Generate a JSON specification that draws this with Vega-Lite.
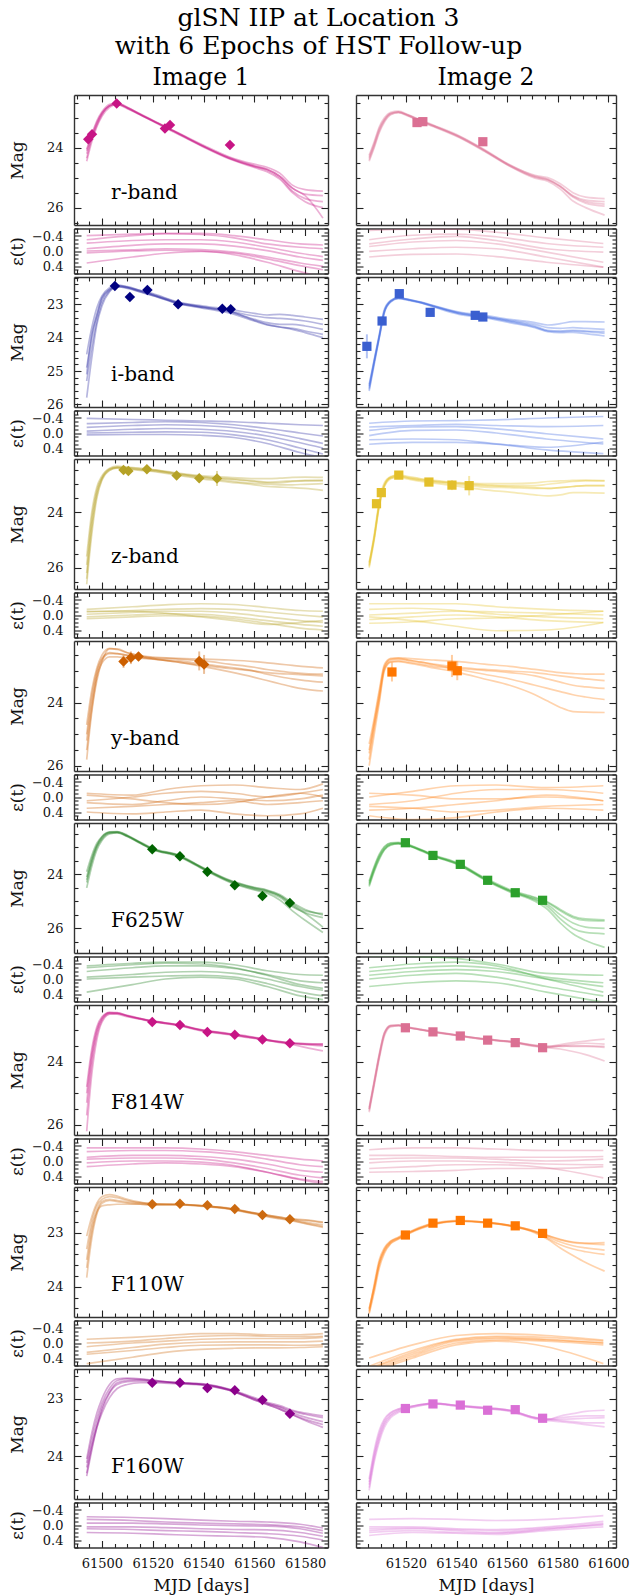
{
"$schema":"https://vega.github.io/schema/vega-lite/v6.json",
"background":"white",
"padding":{"left":8,"top":5,"right":12,"bottom":3},
"title":{"text":["glSN IIP at Location 3","with 6 Epochs of HST Follow-up"],"fontSize":25,"lineHeight":28,"offset":7,"anchor":"middle"},
"columns":2,
"spacing":{"row":3.5,"column":28},
"align":"each",
"bounds":"flush",
"datasets":{
"r1":[{"t":61494,"a":24.05,"b":24.2,"c":24.35,"d":24.45,"e":24.1},{"t":61496,"a":23.55,"b":23.65,"c":23.7,"d":23.8,"e":23.6},{"t":61498,"a":23.1,"b":23.2,"c":23.25,"d":23.3,"e":23.15},{"t":61500,"a":22.8,"b":22.85,"c":22.9,"d":22.95,"e":22.85},{"t":61503,"a":22.55,"b":22.6,"c":22.6,"d":22.65,"e":22.6},{"t":61506,"a":22.5,"b":22.52,"c":22.55,"d":22.55,"e":22.53},{"t":61510,"a":22.65,"b":22.67,"c":22.68,"d":22.7,"e":22.66},{"t":61515,"a":22.87,"b":22.88,"c":22.9,"d":22.9,"e":22.88},{"t":61520,"a":23.08,"b":23.1,"c":23.1,"d":23.12,"e":23.1},{"t":61530,"a":23.5,"b":23.52,"c":23.53,"d":23.55,"e":23.52},{"t":61540,"a":23.92,"b":23.95,"c":23.96,"d":23.98,"e":23.95},{"t":61550,"a":24.3,"b":24.33,"c":24.35,"d":24.37,"e":24.34},{"t":61560,"a":24.55,"b":24.6,"c":24.63,"d":24.66,"e":24.62},{"t":61565,"a":24.65,"b":24.72,"c":24.75,"d":24.8,"e":24.72},{"t":61570,"a":24.85,"b":24.95,"c":25.0,"d":25.05,"e":24.95},{"t":61575,"a":25.25,"b":25.35,"c":25.45,"d":25.5,"e":25.35},{"t":61580,"a":25.4,"b":25.55,"c":25.7,"d":25.8,"e":25.6},{"t":61587,"a":25.45,"b":25.6,"c":25.8,"d":26.0,"e":26.35}],
"r2":[{"t":61505.5,"a":24.3,"b":24.4,"c":24.25,"d":24.45,"e":24.35},{"t":61507.5,"a":23.85,"b":23.95,"c":23.8,"d":24.0,"e":23.9},{"t":61509.5,"a":23.35,"b":23.45,"c":23.3,"d":23.5,"e":23.4},{"t":61511.5,"a":23.05,"b":23.1,"c":23.0,"d":23.15,"e":23.08},{"t":61514,"a":22.85,"b":22.88,"c":22.82,"d":22.9,"e":22.86},{"t":61517,"a":22.8,"b":22.82,"c":22.78,"d":22.83,"e":22.81},{"t":61521,"a":22.92,"b":22.93,"c":22.9,"d":22.95,"e":22.92},{"t":61526,"a":23.1,"b":23.12,"c":23.08,"d":23.13,"e":23.1},{"t":61531,"a":23.27,"b":23.28,"c":23.25,"d":23.3,"e":23.27},{"t":61541,"a":23.62,"b":23.64,"c":23.6,"d":23.66,"e":23.63},{"t":61551,"a":24.08,"b":24.1,"c":24.06,"d":24.12,"e":24.09},{"t":61561,"a":24.58,"b":24.6,"c":24.57,"d":24.62,"e":24.6},{"t":61571,"a":24.92,"b":24.98,"c":24.95,"d":25.02,"e":24.97},{"t":61576,"a":25.0,"b":25.08,"c":25.05,"d":25.12,"e":25.06},{"t":61581,"a":25.2,"b":25.3,"c":25.28,"d":25.38,"e":25.3},{"t":61586,"a":25.5,"b":25.65,"c":25.62,"d":25.78,"e":25.6},{"t":61591,"a":25.65,"b":25.85,"c":25.8,"d":26.0,"e":25.75},{"t":61598.5,"a":25.7,"b":25.95,"c":25.88,"d":26.25,"e":25.8}],
"r1o":[{"t":61494.6,"m":23.72,"lo":23.64,"hi":23.8},{"t":61496.1,"m":23.55,"lo":23.47,"hi":23.63},{"t":61505.8,"m":22.52,"lo":22.46,"hi":22.58},{"t":61524.8,"m":23.36,"lo":23.29,"hi":23.43},{"t":61526.8,"m":23.24,"lo":23.17,"hi":23.31},{"t":61550.4,"m":23.91,"lo":23.81,"hi":24.01}],
"r2o":[{"t":61524.4,"m":23.16,"lo":23.1,"hi":23.22},{"t":61526.7,"m":23.13,"lo":23.07,"hi":23.19},{"t":61550.4,"m":23.8,"lo":23.68,"hi":23.92}],
"r1e":[{"t":61494,"a":-0.41,"b":-0.3,"c":-0.21,"d":-0.06,"e":0.0,"f":0.32,"g":0.05},{"t":61512,"a":-0.45,"b":-0.41,"c":-0.28,"d":-0.15,"e":-0.03,"f":0.16,"g":0.0},{"t":61525,"a":-0.47,"b":-0.46,"c":-0.3,"d":-0.19,"e":-0.06,"f":0.06,"g":-0.02},{"t":61539,"a":-0.47,"b":-0.44,"c":-0.3,"d":-0.19,"e":-0.04,"f":0.01,"g":0.0},{"t":61552,"a":-0.41,"b":-0.35,"c":-0.24,"d":-0.13,"e":0.03,"f":0.06,"g":0.1},{"t":61565,"a":-0.3,"b":-0.19,"c":-0.1,"d":-0.01,"e":0.16,"f":0.21,"g":0.3},{"t":61578,"a":-0.19,"b":-0.1,"c":0.06,"d":0.16,"e":0.32,"f":0.39,"g":0.55},{"t":61587,"a":-0.16,"b":-0.06,"c":0.15,"d":0.25,"e":0.41,"f":0.5,"g":0.7}],
"r2e":[{"t":61505.5,"a":-0.55,"b":-0.19,"c":-0.12,"d":0.01,"e":0.16,"f":-0.3},{"t":61522.7,"a":-0.58,"b":-0.32,"c":-0.24,"d":-0.06,"e":0.09,"f":-0.42},{"t":61539.8,"a":-0.58,"b":-0.39,"c":-0.28,"d":-0.1,"e":0.08,"f":-0.45},{"t":61555.7,"a":-0.5,"b":-0.28,"c":-0.19,"d":-0.06,"e":0.15,"f":-0.38},{"t":61575.5,"a":-0.35,"b":-0.06,"c":0.03,"d":0.16,"e":0.3,"f":-0.2},{"t":61598,"a":-0.2,"b":0.03,"c":0.3,"d":0.43,"e":0.43,"f":-0.1}],
"i1":[{"t":61494,"a":24.5,"b":24.9,"c":25.3,"d":25.8,"e":25.1},{"t":61496,"a":23.7,"b":24.0,"c":24.3,"d":24.6,"e":23.9},{"t":61498,"a":23.1,"b":23.3,"c":23.5,"d":23.6,"e":23.35},{"t":61500,"a":22.75,"b":22.85,"c":22.95,"d":23.05,"e":22.8},{"t":61503,"a":22.5,"b":22.55,"c":22.6,"d":22.62,"e":22.55},{"t":61506,"a":22.42,"b":22.45,"c":22.47,"d":22.48,"e":22.44},{"t":61510,"a":22.47,"b":22.5,"c":22.5,"d":22.52,"e":22.48},{"t":61515,"a":22.58,"b":22.6,"c":22.62,"d":22.63,"e":22.59},{"t":61520,"a":22.68,"b":22.72,"c":22.73,"d":22.74,"e":22.7},{"t":61530,"a":22.93,"b":22.96,"c":22.97,"d":22.98,"e":22.95},{"t":61540,"a":23.05,"b":23.08,"c":23.1,"d":23.12,"e":23.08},{"t":61550,"a":23.15,"b":23.2,"c":23.22,"d":23.26,"e":23.2},{"t":61560,"a":23.27,"b":23.35,"c":23.45,"d":23.5,"e":23.48},{"t":61565,"a":23.32,"b":23.4,"c":23.55,"d":23.62,"e":23.6},{"t":61570,"a":23.3,"b":23.42,"c":23.6,"d":23.68,"e":23.68},{"t":61575,"a":23.33,"b":23.45,"c":23.6,"d":23.72,"e":23.75},{"t":61580,"a":23.38,"b":23.5,"c":23.65,"d":23.8,"e":23.85},{"t":61587,"a":23.45,"b":23.6,"c":23.75,"d":23.9,"e":24.0}],
"i2":[{"t":61505.5,"a":25.6,"b":25.5,"c":25.4,"d":25.55,"e":25.45},{"t":61507.5,"a":24.8,"b":24.7,"c":24.65,"d":24.75,"e":24.7},{"t":61509.5,"a":24.0,"b":23.95,"c":23.9,"d":24.0,"e":23.95},{"t":61511.5,"a":23.25,"b":23.2,"c":23.15,"d":23.25,"e":23.2},{"t":61514,"a":22.92,"b":22.9,"c":22.88,"d":22.93,"e":22.9},{"t":61517,"a":22.82,"b":22.8,"c":22.8,"d":22.83,"e":22.81},{"t":61521,"a":22.87,"b":22.86,"c":22.85,"d":22.88,"e":22.86},{"t":61526,"a":22.95,"b":22.94,"c":22.93,"d":22.96,"e":22.95},{"t":61531,"a":23.06,"b":23.05,"c":23.04,"d":23.08,"e":23.06},{"t":61541,"a":23.27,"b":23.25,"c":23.23,"d":23.3,"e":23.27},{"t":61551,"a":23.37,"b":23.36,"c":23.33,"d":23.4,"e":23.38},{"t":61561,"a":23.5,"b":23.48,"c":23.45,"d":23.55,"e":23.52},{"t":61571,"a":23.65,"b":23.6,"c":23.55,"d":23.7,"e":23.68},{"t":61576,"a":23.78,"b":23.7,"c":23.62,"d":23.82,"e":23.8},{"t":61581,"a":23.8,"b":23.72,"c":23.58,"d":23.85,"e":23.82},{"t":61586,"a":23.78,"b":23.7,"c":23.52,"d":23.84,"e":23.8},{"t":61591,"a":23.8,"b":23.72,"c":23.52,"d":23.88,"e":23.82},{"t":61598.5,"a":23.82,"b":23.75,"c":23.53,"d":23.95,"e":23.87}],
"i1o":[{"t":61505.1,"m":22.45},{"t":61511,"m":22.78},{"t":61517.9,"m":22.57},{"t":61530,"m":23.0},{"t":61547.4,"m":23.13},{"t":61550.7,"m":23.15}],
"i2o":[{"t":61504.6,"m":24.26,"lo":23.9,"hi":24.62},{"t":61510.6,"m":23.5,"lo":23.4,"hi":23.6},{"t":61517.4,"m":22.68},{"t":61529.6,"m":23.24},{"t":61547.4,"m":23.33},{"t":61550.4,"m":23.38,"lo":23.28,"hi":23.48}],
"i1e":[{"t":61494,"a":-0.39,"b":-0.25,"c":-0.15,"d":-0.05,"e":0.0,"f":0.05},{"t":61512,"a":-0.36,"b":-0.28,"c":-0.2,"d":-0.1,"e":-0.02,"f":0.04},{"t":61525,"a":-0.34,"b":-0.3,"c":-0.22,"d":-0.12,"e":-0.03,"f":0.04},{"t":61539,"a":-0.32,"b":-0.28,"c":-0.2,"d":-0.1,"e":-0.02,"f":0.06},{"t":61552,"a":-0.3,"b":-0.22,"c":-0.14,"d":-0.04,"e":0.05,"f":0.12},{"t":61565,"a":-0.26,"b":-0.12,"c":-0.02,"d":0.08,"e":0.18,"f":0.28},{"t":61578,"a":-0.22,"b":0.0,"c":0.15,"d":0.26,"e":0.4,"f":0.52},{"t":61587,"a":-0.2,"b":0.08,"c":0.28,"d":0.4,"e":0.56,"f":0.66}],
"i2e":[{"t":61505.5,"a":-0.26,"b":-0.16,"c":-0.07,"d":0.07,"e":0.18,"f":0.3},{"t":61522.7,"a":-0.32,"b":-0.2,"c":-0.16,"d":-0.07,"e":0.16,"f":0.25},{"t":61539.8,"a":-0.33,"b":-0.23,"c":-0.17,"d":-0.08,"e":0.18,"f":0.25},{"t":61555.7,"a":-0.35,"b":-0.2,"c":-0.11,"d":0.0,"e":0.29,"f":0.3},{"t":61575.5,"a":-0.4,"b":-0.17,"c":0.02,"d":0.16,"e":0.38,"f":0.45},{"t":61598,"a":-0.44,"b":-0.2,"c":0.16,"d":0.29,"e":0.24,"f":0.55}],
"z1":[{"t":61494,"a":26.6,"b":25.6,"c":26.2,"d":25.9,"e":26.4},{"t":61496,"a":24.8,"b":24.0,"c":24.4,"d":24.2,"e":24.6},{"t":61498,"a":23.5,"b":23.1,"c":23.3,"d":23.2,"e":23.4},{"t":61500,"a":22.85,"b":22.7,"c":22.8,"d":22.75,"e":22.82},{"t":61503,"a":22.5,"b":22.42,"c":22.46,"d":22.45,"e":22.5},{"t":61506,"a":22.4,"b":22.35,"c":22.38,"d":22.4,"e":22.42},{"t":61510,"a":22.42,"b":22.38,"c":22.4,"d":22.44,"e":22.45},{"t":61515,"a":22.46,"b":22.42,"c":22.44,"d":22.48,"e":22.5},{"t":61520,"a":22.5,"b":22.47,"c":22.48,"d":22.52,"e":22.54},{"t":61530,"a":22.62,"b":22.6,"c":22.62,"d":22.65,"e":22.68},{"t":61540,"a":22.74,"b":22.7,"c":22.74,"d":22.78,"e":22.82},{"t":61550,"a":22.82,"b":22.75,"c":22.8,"d":22.88,"e":22.92},{"t":61560,"a":22.9,"b":22.8,"c":22.88,"d":22.97,"e":23.02},{"t":61565,"a":22.95,"b":22.8,"c":22.92,"d":23.0,"e":23.08},{"t":61570,"a":22.95,"b":22.78,"c":22.9,"d":23.02,"e":23.1},{"t":61575,"a":22.9,"b":22.75,"c":22.88,"d":23.02,"e":23.12},{"t":61580,"a":22.88,"b":22.74,"c":22.86,"d":23.0,"e":23.15},{"t":61587,"a":22.88,"b":22.75,"c":22.85,"d":22.98,"e":23.22}],
"z2":[{"t":61505.5,"a":25.8,"b":26.0,"c":25.9,"d":25.85,"e":25.95},{"t":61507.5,"a":24.9,"b":25.0,"c":24.8,"d":24.9,"e":24.95},{"t":61509.5,"a":23.7,"b":23.8,"c":23.6,"d":23.7,"e":23.75},{"t":61511.5,"a":23.05,"b":23.1,"c":22.95,"d":23.0,"e":23.05},{"t":61514,"a":22.75,"b":22.8,"c":22.72,"d":22.75,"e":22.78},{"t":61517,"a":22.68,"b":22.72,"c":22.66,"d":22.7,"e":22.75},{"t":61521,"a":22.75,"b":22.78,"c":22.72,"d":22.78,"e":22.82},{"t":61526,"a":22.82,"b":22.85,"c":22.8,"d":22.86,"e":22.9},{"t":61531,"a":22.88,"b":22.9,"c":22.86,"d":22.92,"e":22.96},{"t":61541,"a":22.96,"b":22.98,"c":22.94,"d":23.02,"e":23.08},{"t":61551,"a":23.02,"b":23.05,"c":22.98,"d":23.1,"e":23.2},{"t":61561,"a":23.05,"b":23.08,"c":22.98,"d":23.12,"e":23.28},{"t":61571,"a":23.05,"b":23.12,"c":22.95,"d":23.15,"e":23.38},{"t":61576,"a":23.0,"b":23.15,"c":22.9,"d":23.15,"e":23.42},{"t":61581,"a":22.95,"b":23.12,"c":22.88,"d":23.12,"e":23.38},{"t":61586,"a":22.9,"b":23.08,"c":22.86,"d":23.08,"e":23.3},{"t":61591,"a":22.88,"b":23.05,"c":22.85,"d":23.05,"e":23.3},{"t":61598.5,"a":22.88,"b":23.05,"c":22.87,"d":23.05,"e":23.32}],
"z1o":[{"t":61508.5,"m":22.49},{"t":61510.4,"m":22.52},{"t":61517.7,"m":22.46},{"t":61529.4,"m":22.68,"lo":22.6,"hi":22.76},{"t":61538.3,"m":22.78,"lo":22.68,"hi":22.88},{"t":61545.3,"m":22.79,"lo":22.52,"hi":23.06}],
"z2o":[{"t":61508.4,"m":23.7},{"t":61510.3,"m":23.3},{"t":61517.2,"m":22.67},{"t":61529.1,"m":22.92,"lo":22.84,"hi":23.0},{"t":61538.2,"m":23.03,"lo":22.85,"hi":23.21},{"t":61545,"m":23.05,"lo":22.7,"hi":23.4}],
"z1e":[{"t":61494,"a":-0.15,"b":-0.08,"c":-0.02,"d":0.05,"e":0.1,"f":-0.1},{"t":61512,"a":-0.22,"b":-0.12,"c":-0.07,"d":0.0,"e":0.05,"f":-0.1},{"t":61525,"a":-0.27,"b":-0.15,"c":-0.1,"d":-0.03,"e":0.02,"f":-0.05},{"t":61539,"a":-0.3,"b":-0.17,"c":-0.1,"d":-0.02,"e":0.03,"f":0.05},{"t":61552,"a":-0.28,"b":-0.15,"c":-0.05,"d":0.05,"e":0.1,"f":0.15},{"t":61565,"a":-0.2,"b":-0.08,"c":0.05,"d":0.15,"e":0.22,"f":0.25},{"t":61578,"a":-0.12,"b":0.0,"c":0.15,"d":0.25,"e":0.35,"f":0.2},{"t":61587,"a":-0.1,"b":0.05,"c":0.2,"d":0.3,"e":0.4,"f":0.15}],
"z2e":[{"t":61505.5,"a":-0.3,"b":-0.15,"c":0.0,"d":0.12,"e":0.22,"f":0.05},{"t":61522.7,"a":-0.3,"b":-0.18,"c":-0.05,"d":0.05,"e":0.18,"f":0.15},{"t":61539.8,"a":-0.3,"b":-0.12,"c":-0.1,"d":0.0,"e":0.1,"f":0.3},{"t":61555.7,"a":-0.22,"b":-0.02,"c":-0.08,"d":0.05,"e":0.08,"f":0.42},{"t":61575.5,"a":-0.15,"b":0.05,"c":-0.05,"d":0.15,"e":0.0,"f":0.4},{"t":61598,"a":-0.1,"b":0.1,"c":0.0,"d":0.2,"e":-0.1,"f":0.2}],
"Y1":[{"t":61494,"a":25.8,"b":24.7,"c":25.2,"d":25.5,"e":25.0},{"t":61496,"a":24.3,"b":23.6,"c":24.0,"d":24.2,"e":23.8},{"t":61498,"a":23.3,"b":22.9,"c":23.1,"d":23.2,"e":23.0},{"t":61500,"a":22.7,"b":22.5,"c":22.65,"d":22.75,"e":22.6},{"t":61503,"a":22.3,"b":22.28,"c":22.45,"d":22.55,"e":22.42},{"t":61506,"a":22.3,"b":22.32,"c":22.45,"d":22.55,"e":22.45},{"t":61510,"a":22.42,"b":22.42,"c":22.5,"d":22.58,"e":22.5},{"t":61515,"a":22.52,"b":22.5,"c":22.55,"d":22.6,"e":22.56},{"t":61520,"a":22.6,"b":22.56,"c":22.58,"d":22.62,"e":22.62},{"t":61530,"a":22.72,"b":22.6,"c":22.62,"d":22.68,"e":22.72},{"t":61540,"a":22.82,"b":22.62,"c":22.68,"d":22.78,"e":22.86},{"t":61550,"a":22.92,"b":22.65,"c":22.78,"d":22.88,"e":23.02},{"t":61560,"a":23.0,"b":22.7,"c":22.88,"d":23.0,"e":23.2},{"t":61565,"a":23.05,"b":22.74,"c":22.95,"d":23.1,"e":23.3},{"t":61570,"a":23.08,"b":22.78,"c":23.0,"d":23.18,"e":23.4},{"t":61575,"a":23.1,"b":22.82,"c":23.05,"d":23.25,"e":23.5},{"t":61580,"a":23.12,"b":22.86,"c":23.08,"d":23.3,"e":23.57},{"t":61587,"a":23.15,"b":22.9,"c":23.1,"d":23.35,"e":23.63}],
"Y2":[{"t":61505.5,"a":25.3,"b":25.6,"c":25.99,"d":25.5,"e":25.8},{"t":61507.5,"a":24.5,"b":24.7,"c":25.0,"d":24.6,"e":24.8},{"t":61509.5,"a":23.6,"b":23.8,"c":24.0,"d":23.7,"e":23.9},{"t":61511.5,"a":22.8,"b":22.9,"c":23.0,"d":22.85,"e":22.95},{"t":61514,"a":22.6,"b":22.65,"c":22.72,"d":22.62,"e":22.7},{"t":61517,"a":22.58,"b":22.62,"c":22.7,"d":22.6,"e":22.68},{"t":61521,"a":22.6,"b":22.66,"c":22.75,"d":22.65,"e":22.72},{"t":61526,"a":22.63,"b":22.72,"c":22.82,"d":22.72,"e":22.78},{"t":61531,"a":22.65,"b":22.78,"c":22.9,"d":22.8,"e":22.85},{"t":61541,"a":22.7,"b":22.88,"c":23.05,"d":22.95,"e":22.92},{"t":61551,"a":22.78,"b":22.95,"c":23.25,"d":23.1,"e":22.98},{"t":61561,"a":22.85,"b":23.0,"c":23.45,"d":23.25,"e":23.05},{"t":61571,"a":22.95,"b":23.05,"c":23.75,"d":23.45,"e":23.15},{"t":61576,"a":23.0,"b":23.1,"c":23.95,"d":23.55,"e":23.25},{"t":61581,"a":23.05,"b":23.15,"c":24.15,"d":23.65,"e":23.35},{"t":61586,"a":23.08,"b":23.2,"c":24.28,"d":23.75,"e":23.45},{"t":61591,"a":23.1,"b":23.25,"c":24.3,"d":23.82,"e":23.5},{"t":61598.5,"a":23.1,"b":23.3,"c":24.31,"d":23.9,"e":23.55}],
"Y1o":[{"t":61508.5,"m":22.7,"lo":22.5,"hi":22.9},{"t":61511.4,"m":22.58,"lo":22.38,"hi":22.78},{"t":61514.4,"m":22.54,"lo":22.42,"hi":22.66},{"t":61538.3,"m":22.68,"lo":22.38,"hi":22.98},{"t":61540.2,"m":22.79,"lo":22.49,"hi":23.09}],
"Y2o":[{"t":61514.5,"m":23.03,"lo":22.73,"hi":23.33},{"t":61538.2,"m":22.84,"lo":22.49,"hi":23.19},{"t":61540.3,"m":22.99,"lo":22.69,"hi":23.29}],
"Y1e":[{"t":61494,"a":-0.1,"b":0.1,"c":0.15,"d":-0.05,"e":0.3,"f":0.4},{"t":61512,"a":-0.05,"b":0.0,"c":0.2,"d":0.05,"e":0.25,"f":0.45},{"t":61525,"a":-0.2,"b":-0.1,"c":0.1,"d":0.15,"e":0.2,"f":0.4},{"t":61539,"a":-0.3,"b":-0.15,"c":0.0,"d":0.2,"e":0.15,"f":0.35},{"t":61552,"a":-0.32,"b":-0.1,"c":0.05,"d":0.15,"e":0.1,"f":0.45},{"t":61565,"a":-0.25,"b":0.0,"c":0.1,"d":0.0,"e":0.2,"f":0.5},{"t":61578,"a":-0.2,"b":-0.1,"c":0.05,"d":-0.1,"e":0.15,"f":0.45},{"t":61587,"a":-0.35,"b":-0.2,"c":-0.05,"d":0.0,"e":0.1,"f":0.3}],
"Y2e":[{"t":61505.5,"a":0.0,"b":0.2,"c":-0.1,"d":0.35,"e":0.25,"f":0.5},{"t":61522.7,"a":-0.15,"b":0.1,"c":-0.05,"d":0.3,"e":0.3,"f":0.6},{"t":61539.8,"a":-0.3,"b":-0.1,"c":0.05,"d":0.2,"e":0.4,"f":0.55},{"t":61555.7,"a":-0.32,"b":-0.2,"c":0.05,"d":0.1,"e":0.35,"f":0.4},{"t":61575.5,"a":-0.25,"b":-0.2,"c":0.0,"d":-0.05,"e":0.25,"f":0.3},{"t":61598,"a":-0.3,"b":-0.1,"c":0.1,"d":0.1,"e":0.2,"f":0.35}],
"f61":[{"t":61494,"a":24.5,"b":24.2,"c":23.9,"d":24.3,"e":24.1},{"t":61496,"a":23.7,"b":23.5,"c":23.3,"d":23.55,"e":23.4},{"t":61498,"a":23.1,"b":22.95,"c":22.85,"d":23.0,"e":22.92},{"t":61500,"a":22.75,"b":22.65,"c":22.6,"d":22.7,"e":22.62},{"t":61503,"a":22.5,"b":22.45,"c":22.43,"d":22.48,"e":22.45},{"t":61506,"a":22.47,"b":22.43,"c":22.42,"d":22.46,"e":22.44},{"t":61510,"a":22.6,"b":22.57,"c":22.55,"d":22.6,"e":22.57},{"t":61515,"a":22.85,"b":22.82,"c":22.8,"d":22.84,"e":22.82},{"t":61520,"a":23.08,"b":23.06,"c":23.04,"d":23.08,"e":23.06},{"t":61530,"a":23.32,"b":23.3,"c":23.28,"d":23.34,"e":23.3},{"t":61540,"a":23.8,"b":23.78,"c":23.76,"d":23.82,"e":23.78},{"t":61550,"a":24.25,"b":24.22,"c":24.2,"d":24.28,"e":24.24},{"t":61560,"a":24.55,"b":24.5,"c":24.48,"d":24.58,"e":24.52},{"t":61565,"a":24.65,"b":24.6,"c":24.58,"d":24.7,"e":24.62},{"t":61570,"a":24.85,"b":24.78,"c":24.75,"d":24.95,"e":24.8},{"t":61575,"a":25.2,"b":25.1,"c":25.05,"d":25.35,"e":25.15},{"t":61580,"a":25.42,"b":25.35,"c":25.3,"d":25.7,"e":25.45},{"t":61587,"a":25.6,"b":25.45,"c":25.5,"d":26.15,"e":25.95}],
"f62":[{"t":61505.5,"a":24.3,"b":24.4,"c":24.25,"d":24.35,"e":24.45},{"t":61507.5,"a":23.75,"b":23.85,"c":23.7,"d":23.8,"e":23.9},{"t":61509.5,"a":23.3,"b":23.4,"c":23.25,"d":23.35,"e":23.45},{"t":61511.5,"a":23.0,"b":23.08,"c":22.97,"d":23.05,"e":23.1},{"t":61514,"a":22.85,"b":22.9,"c":22.83,"d":22.88,"e":22.92},{"t":61517,"a":22.83,"b":22.86,"c":22.82,"d":22.85,"e":22.87},{"t":61521,"a":22.92,"b":22.94,"c":22.9,"d":22.93,"e":22.95},{"t":61526,"a":23.1,"b":23.12,"c":23.08,"d":23.1,"e":23.13},{"t":61531,"a":23.3,"b":23.32,"c":23.28,"d":23.3,"e":23.33},{"t":61541,"a":23.63,"b":23.65,"c":23.6,"d":23.62,"e":23.66},{"t":61551,"a":24.15,"b":24.18,"c":24.12,"d":24.16,"e":24.2},{"t":61561,"a":24.6,"b":24.62,"c":24.56,"d":24.6,"e":24.65},{"t":61571,"a":24.88,"b":24.92,"c":24.85,"d":24.95,"e":25.0},{"t":61576,"a":25.05,"b":25.12,"c":25.02,"d":25.2,"e":25.3},{"t":61581,"a":25.35,"b":25.5,"c":25.3,"d":25.65,"e":25.8},{"t":61586,"a":25.6,"b":25.8,"c":25.55,"d":26.0,"e":26.2},{"t":61591,"a":25.7,"b":25.95,"c":25.65,"d":26.15,"e":26.45},{"t":61598.5,"a":25.72,"b":26.0,"c":25.68,"d":26.2,"e":26.7}],
"f61o":[{"t":61519.8,"m":23.07},{"t":61530.7,"m":23.33},{"t":61541.5,"m":23.9},{"t":61552.3,"m":24.4},{"t":61563.2,"m":24.8},{"t":61574,"m":25.06}],
"f62o":[{"t":61519.8,"m":22.83},{"t":61530.7,"m":23.3},{"t":61541.5,"m":23.63},{"t":61552.3,"m":24.22},{"t":61563.2,"m":24.68},{"t":61574,"m":24.96}],
"f61e":[{"t":61494,"a":-0.35,"b":-0.2,"c":-0.05,"d":0.0,"e":0.35,"f":-0.3},{"t":61512,"a":-0.42,"b":-0.3,"c":-0.12,"d":-0.05,"e":0.15,"f":-0.38},{"t":61525,"a":-0.45,"b":-0.35,"c":-0.18,"d":-0.08,"e":0.0,"f":-0.42},{"t":61539,"a":-0.45,"b":-0.35,"c":-0.2,"d":-0.1,"e":-0.05,"f":-0.4},{"t":61552,"a":-0.38,"b":-0.28,"c":-0.15,"d":-0.05,"e":0.0,"f":-0.3},{"t":61565,"a":-0.22,"b":-0.12,"c":0.0,"d":0.12,"e":0.2,"f":-0.1},{"t":61578,"a":-0.12,"b":0.05,"c":0.2,"d":0.35,"e":0.45,"f":0.15},{"t":61587,"a":-0.1,"b":0.1,"c":0.3,"d":0.45,"e":0.55,"f":0.25}],
"f62e":[{"t":61505.5,"a":-0.62,"b":-0.2,"c":-0.1,"d":0.0,"e":0.2,"f":-0.3},{"t":61522.7,"a":-0.6,"b":-0.3,"c":-0.2,"d":-0.1,"e":0.1,"f":-0.4},{"t":61539.8,"a":-0.55,"b":-0.35,"c":-0.25,"d":-0.15,"e":0.05,"f":-0.45},{"t":61555.7,"a":-0.4,"b":-0.28,"c":-0.2,"d":-0.05,"e":0.1,"f":-0.35},{"t":61575.5,"a":-0.15,"b":-0.05,"c":0.0,"d":0.2,"e":0.35,"f":0.0},{"t":61598,"a":-0.1,"b":0.1,"c":0.2,"d":0.45,"e":0.62,"f":0.35}],
"f81":[{"t":61494,"a":26.2,"b":25.3,"c":24.8,"d":25.7,"e":25.0},{"t":61496,"a":24.4,"b":23.9,"c":23.6,"d":24.1,"e":23.75},{"t":61498,"a":23.3,"b":23.05,"c":22.9,"d":23.15,"e":22.98},{"t":61500,"a":22.75,"b":22.65,"c":22.58,"d":22.7,"e":22.62},{"t":61503,"a":22.5,"b":22.46,"c":22.44,"d":22.48,"e":22.45},{"t":61506,"a":22.48,"b":22.46,"c":22.45,"d":22.5,"e":22.47},{"t":61510,"a":22.56,"b":22.55,"c":22.54,"d":22.58,"e":22.55},{"t":61515,"a":22.65,"b":22.64,"c":22.63,"d":22.66,"e":22.64},{"t":61520,"a":22.73,"b":22.72,"c":22.71,"d":22.74,"e":22.72},{"t":61530,"a":22.85,"b":22.84,"c":22.83,"d":22.86,"e":22.84},{"t":61540,"a":23.02,"b":23.01,"c":23.0,"d":23.04,"e":23.02},{"t":61550,"a":23.13,"b":23.12,"c":23.11,"d":23.15,"e":23.13},{"t":61560,"a":23.25,"b":23.24,"c":23.23,"d":23.27,"e":23.25},{"t":61565,"a":23.32,"b":23.31,"c":23.3,"d":23.33,"e":23.32},{"t":61570,"a":23.38,"b":23.37,"c":23.37,"d":23.4,"e":23.38},{"t":61575,"a":23.42,"b":23.41,"c":23.42,"d":23.46,"e":23.43},{"t":61580,"a":23.44,"b":23.43,"c":23.46,"d":23.55,"e":23.45},{"t":61587,"a":23.45,"b":23.44,"c":23.5,"d":23.66,"e":23.48}],
"f82":[{"t":61505.5,"a":25.6,"b":25.5,"c":25.45,"d":25.55,"e":25.5},{"t":61507.5,"a":24.75,"b":24.65,"c":24.6,"d":24.7,"e":24.65},{"t":61509.5,"a":23.9,"b":23.8,"c":23.75,"d":23.85,"e":23.8},{"t":61511.5,"a":23.2,"b":23.12,"c":23.08,"d":23.15,"e":23.1},{"t":61514,"a":22.9,"b":22.87,"c":22.85,"d":22.88,"e":22.86},{"t":61517,"a":22.87,"b":22.85,"c":22.84,"d":22.86,"e":22.85},{"t":61521,"a":22.93,"b":22.92,"c":22.91,"d":22.93,"e":22.92},{"t":61526,"a":23.0,"b":22.99,"c":22.98,"d":23.0,"e":22.99},{"t":61531,"a":23.06,"b":23.05,"c":23.05,"d":23.07,"e":23.06},{"t":61541,"a":23.18,"b":23.17,"c":23.17,"d":23.19,"e":23.18},{"t":61551,"a":23.29,"b":23.28,"c":23.28,"d":23.3,"e":23.29},{"t":61561,"a":23.37,"b":23.36,"c":23.36,"d":23.38,"e":23.37},{"t":61571,"a":23.5,"b":23.48,"c":23.49,"d":23.52,"e":23.5},{"t":61576,"a":23.55,"b":23.52,"c":23.52,"d":23.56,"e":23.54},{"t":61581,"a":23.5,"b":23.46,"c":23.52,"d":23.6,"e":23.5},{"t":61586,"a":23.45,"b":23.4,"c":23.5,"d":23.68,"e":23.52},{"t":61591,"a":23.42,"b":23.35,"c":23.5,"d":23.78,"e":23.52},{"t":61598.5,"a":23.45,"b":23.29,"c":23.52,"d":23.98,"e":23.55}],
"f81o":[{"t":61519.8,"m":22.75},{"t":61530.7,"m":22.84},{"t":61541.5,"m":23.06},{"t":61552.3,"m":23.15},{"t":61563.2,"m":23.3},{"t":61574,"m":23.42}],
"f82o":[{"t":61519.8,"m":22.93},{"t":61530.7,"m":23.06},{"t":61541.5,"m":23.19},{"t":61552.3,"m":23.32},{"t":61563.2,"m":23.4},{"t":61574,"m":23.56}],
"f81e":[{"t":61494,"a":-0.35,"b":-0.25,"c":-0.1,"d":-0.05,"e":0.05,"f":0.15},{"t":61512,"a":-0.35,"b":-0.28,"c":-0.15,"d":-0.08,"e":0.0,"f":0.08},{"t":61525,"a":-0.35,"b":-0.28,"c":-0.15,"d":-0.08,"e":0.0,"f":0.05},{"t":61539,"a":-0.32,"b":-0.25,"c":-0.12,"d":-0.05,"e":0.03,"f":0.08},{"t":61552,"a":-0.25,"b":-0.18,"c":-0.05,"d":0.05,"e":0.12,"f":0.15},{"t":61565,"a":-0.15,"b":-0.05,"c":0.08,"d":0.2,"e":0.3,"f":0.3},{"t":61578,"a":-0.05,"b":0.1,"c":0.25,"d":0.38,"e":0.5,"f":0.48},{"t":61587,"a":0.0,"b":0.15,"c":0.3,"d":0.45,"e":0.6,"f":0.55}],
"f82e":[{"t":61505.5,"a":-0.3,"b":-0.15,"c":-0.05,"d":0.05,"e":0.2,"f":0.3},{"t":61522.7,"a":-0.35,"b":-0.15,"c":-0.08,"d":0.0,"e":0.15,"f":0.28},{"t":61539.8,"a":-0.35,"b":-0.12,"c":-0.08,"d":0.0,"e":0.1,"f":0.25},{"t":61555.7,"a":-0.32,"b":-0.1,"c":-0.05,"d":0.03,"e":0.1,"f":0.2},{"t":61575.5,"a":-0.28,"b":-0.1,"c":0.0,"d":0.08,"e":0.18,"f":0.2},{"t":61598,"a":-0.28,"b":-0.12,"c":-0.05,"d":0.1,"e":0.45,"f":0.15}],
"j1":[{"t":61494,"a":23.83,"b":23.5,"c":23.06,"d":23.3,"e":23.65},{"t":61496,"a":23.1,"b":22.9,"c":22.7,"d":22.8,"e":23.0},{"t":61498,"a":22.65,"b":22.58,"c":22.45,"d":22.5,"e":22.62},{"t":61500,"a":22.45,"b":22.42,"c":22.33,"d":22.38,"e":22.5},{"t":61503,"a":22.4,"b":22.38,"c":22.29,"d":22.33,"e":22.48},{"t":61506,"a":22.42,"b":22.4,"c":22.32,"d":22.35,"e":22.47},{"t":61510,"a":22.45,"b":22.43,"c":22.38,"d":22.4,"e":22.47},{"t":61515,"a":22.47,"b":22.45,"c":22.43,"d":22.44,"e":22.47},{"t":61520,"a":22.48,"b":22.47,"c":22.46,"d":22.46,"e":22.48},{"t":61530,"a":22.48,"b":22.47,"c":22.47,"d":22.47,"e":22.48},{"t":61540,"a":22.5,"b":22.5,"c":22.5,"d":22.5,"e":22.51},{"t":61550,"a":22.55,"b":22.55,"c":22.54,"d":22.55,"e":22.56},{"t":61560,"a":22.64,"b":22.63,"c":22.63,"d":22.64,"e":22.65},{"t":61565,"a":22.68,"b":22.67,"c":22.67,"d":22.69,"e":22.7},{"t":61570,"a":22.72,"b":22.71,"c":22.71,"d":22.73,"e":22.74},{"t":61575,"a":22.76,"b":22.75,"c":22.74,"d":22.77,"e":22.78},{"t":61580,"a":22.8,"b":22.77,"c":22.76,"d":22.82,"e":22.83},{"t":61587,"a":22.85,"b":22.81,"c":22.8,"d":22.88,"e":22.9}],
"j2":[{"t":61505.5,"a":24.4,"b":24.48,"c":24.45,"d":24.42,"e":24.5},{"t":61507.5,"a":24.0,"b":24.05,"c":23.95,"d":24.0,"e":24.1},{"t":61509.5,"a":23.55,"b":23.6,"c":23.5,"d":23.55,"e":23.65},{"t":61511.5,"a":23.3,"b":23.35,"c":23.28,"d":23.32,"e":23.38},{"t":61514,"a":23.16,"b":23.19,"c":23.15,"d":23.17,"e":23.2},{"t":61517,"a":23.09,"b":23.11,"c":23.08,"d":23.1,"e":23.12},{"t":61521,"a":23.0,"b":23.01,"c":22.99,"d":23.0,"e":23.02},{"t":61526,"a":22.9,"b":22.91,"c":22.89,"d":22.9,"e":22.92},{"t":61531,"a":22.83,"b":22.84,"c":22.82,"d":22.83,"e":22.85},{"t":61541,"a":22.78,"b":22.78,"c":22.77,"d":22.78,"e":22.79},{"t":61551,"a":22.8,"b":22.8,"c":22.8,"d":22.81,"e":22.81},{"t":61561,"a":22.86,"b":22.86,"c":22.86,"d":22.87,"e":22.87},{"t":61571,"a":22.97,"b":22.98,"c":22.97,"d":22.99,"e":23.0},{"t":61576,"a":23.05,"b":23.07,"c":23.05,"d":23.1,"e":23.12},{"t":61581,"a":23.13,"b":23.17,"c":23.12,"d":23.22,"e":23.28},{"t":61586,"a":23.18,"b":23.24,"c":23.17,"d":23.3,"e":23.42},{"t":61591,"a":23.2,"b":23.28,"c":23.19,"d":23.35,"e":23.55},{"t":61598.5,"a":23.22,"b":23.32,"c":23.18,"d":23.4,"e":23.71}],
"j1o":[{"t":61519.8,"m":22.47,"lo":22.44,"hi":22.5},{"t":61530.7,"m":22.46,"lo":22.43,"hi":22.49},{"t":61541.5,"m":22.49,"lo":22.46,"hi":22.52},{"t":61552.3,"m":22.56,"lo":22.53,"hi":22.59},{"t":61563.2,"m":22.67,"lo":22.64,"hi":22.7},{"t":61574,"m":22.75,"lo":22.72,"hi":22.78}],
"j2o":[{"t":61519.8,"m":23.04},{"t":61530.7,"m":22.82},{"t":61541.5,"m":22.77},{"t":61552.3,"m":22.82},{"t":61563.2,"m":22.87},{"t":61574,"m":23.01}],
"j1e":[{"t":61494,"a":-0.1,"b":0.0,"c":0.1,"d":0.25,"e":0.3,"f":0.55},{"t":61512,"a":-0.15,"b":-0.05,"c":0.0,"d":0.12,"e":0.2,"f":0.38},{"t":61525,"a":-0.2,"b":-0.12,"c":-0.05,"d":0.03,"e":0.12,"f":0.25},{"t":61539,"a":-0.25,"b":-0.18,"c":-0.1,"d":-0.02,"e":0.06,"f":0.17},{"t":61552,"a":-0.25,"b":-0.2,"c":-0.12,"d":-0.03,"e":0.05,"f":0.14},{"t":61565,"a":-0.22,"b":-0.18,"c":-0.12,"d":-0.03,"e":0.05,"f":0.13},{"t":61578,"a":-0.22,"b":-0.17,"c":-0.12,"d":-0.03,"e":0.06,"f":0.12},{"t":61587,"a":-0.25,"b":-0.18,"c":-0.15,"d":-0.05,"e":0.05,"f":0.1}],
"j2e":[{"t":61505.5,"a":0.4,"b":0.62,"c":0.7,"d":0.75,"e":0.8,"f":0.68},{"t":61522.7,"a":0.05,"b":0.2,"c":0.3,"d":0.35,"e":0.4,"f":0.25},{"t":61539.8,"a":-0.2,"b":-0.1,"c":-0.05,"d":0.0,"e":0.05,"f":-0.08},{"t":61555.7,"a":-0.25,"b":-0.18,"c":-0.12,"d":-0.08,"e":-0.05,"f":-0.15},{"t":61575.5,"a":-0.2,"b":-0.15,"c":-0.08,"d":-0.05,"e":0.1,"f":-0.1},{"t":61598,"a":-0.08,"b":-0.05,"c":0.0,"d":0.05,"e":0.55,"f":0.0}],
"h1":[{"t":61494,"a":24.35,"b":24.12,"c":24.2,"d":24.05,"e":24.3},{"t":61496,"a":23.9,"b":23.7,"c":23.8,"d":23.6,"e":23.85},{"t":61498,"a":23.5,"b":23.35,"c":23.45,"d":23.25,"e":23.5},{"t":61500,"a":23.2,"b":23.08,"c":23.15,"d":23.0,"e":23.25},{"t":61503,"a":22.9,"b":22.82,"c":22.88,"d":22.75,"e":22.98},{"t":61506,"a":22.75,"b":22.68,"c":22.72,"d":22.65,"e":22.82},{"t":61510,"a":22.7,"b":22.65,"c":22.68,"d":22.64,"e":22.75},{"t":61515,"a":22.69,"b":22.66,"c":22.67,"d":22.65,"e":22.72},{"t":61520,"a":22.7,"b":22.68,"c":22.69,"d":22.68,"e":22.72},{"t":61530,"a":22.73,"b":22.72,"c":22.72,"d":22.72,"e":22.74},{"t":61540,"a":22.75,"b":22.74,"c":22.75,"d":22.76,"e":22.76},{"t":61550,"a":22.84,"b":22.83,"c":22.84,"d":22.85,"e":22.85},{"t":61560,"a":23.0,"b":22.98,"c":23.0,"d":23.02,"e":23.02},{"t":61565,"a":23.08,"b":23.06,"c":23.08,"d":23.1,"e":23.1},{"t":61570,"a":23.14,"b":23.12,"c":23.15,"d":23.18,"e":23.18},{"t":61575,"a":23.22,"b":23.2,"c":23.25,"d":23.28,"e":23.28},{"t":61580,"a":23.27,"b":23.25,"c":23.32,"d":23.36,"e":23.38},{"t":61587,"a":23.33,"b":23.3,"c":23.4,"d":23.45,"e":23.5}],
"h2":[{"t":61505.5,"a":24.5,"b":24.45,"c":24.55,"d":24.4,"e":24.6},{"t":61507.5,"a":24.0,"b":23.95,"c":24.05,"d":23.9,"e":24.1},{"t":61509.5,"a":23.65,"b":23.6,"c":23.7,"d":23.55,"e":23.75},{"t":61511.5,"a":23.42,"b":23.38,"c":23.45,"d":23.35,"e":23.5},{"t":61514,"a":23.28,"b":23.25,"c":23.3,"d":23.24,"e":23.33},{"t":61517,"a":23.2,"b":23.18,"c":23.22,"d":23.18,"e":23.24},{"t":61521,"a":23.15,"b":23.14,"c":23.16,"d":23.14,"e":23.17},{"t":61526,"a":23.1,"b":23.1,"c":23.11,"d":23.1,"e":23.12},{"t":61531,"a":23.08,"b":23.08,"c":23.09,"d":23.08,"e":23.09},{"t":61541,"a":23.12,"b":23.12,"c":23.13,"d":23.12,"e":23.13},{"t":61551,"a":23.16,"b":23.15,"c":23.17,"d":23.16,"e":23.17},{"t":61561,"a":23.2,"b":23.2,"c":23.21,"d":23.2,"e":23.22},{"t":61571,"a":23.33,"b":23.33,"c":23.34,"d":23.33,"e":23.35},{"t":61576,"a":23.36,"b":23.37,"c":23.36,"d":23.35,"e":23.38},{"t":61581,"a":23.3,"b":23.36,"c":23.33,"d":23.38,"e":23.4},{"t":61586,"a":23.26,"b":23.35,"c":23.31,"d":23.4,"e":23.42},{"t":61591,"a":23.22,"b":23.34,"c":23.3,"d":23.42,"e":23.45},{"t":61598.5,"a":23.2,"b":23.33,"c":23.3,"d":23.42,"e":23.49}],
"h1o":[{"t":61519.8,"m":22.72},{"t":61530.7,"m":22.72},{"t":61541.5,"m":22.81},{"t":61552.3,"m":22.85},{"t":61563.2,"m":23.02},{"t":61574,"m":23.26}],
"h2o":[{"t":61519.8,"m":23.17},{"t":61530.7,"m":23.09},{"t":61541.5,"m":23.11},{"t":61552.3,"m":23.2},{"t":61563.2,"m":23.19},{"t":61574,"m":23.34}],
"h1e":[{"t":61494,"a":-0.22,"b":-0.15,"c":-0.05,"d":0.05,"e":0.2,"f":0.1},{"t":61512,"a":-0.2,"b":-0.12,"c":-0.05,"d":0.05,"e":0.22,"f":0.12},{"t":61525,"a":-0.17,"b":-0.08,"c":-0.03,"d":0.07,"e":0.25,"f":0.15},{"t":61539,"a":-0.13,"b":-0.05,"c":0.0,"d":0.1,"e":0.28,"f":0.17},{"t":61552,"a":-0.1,"b":-0.03,"c":0.02,"d":0.12,"e":0.3,"f":0.2},{"t":61565,"a":-0.08,"b":-0.01,"c":0.03,"d":0.13,"e":0.33,"f":0.23},{"t":61578,"a":-0.02,"b":0.05,"c":0.1,"d":0.2,"e":0.45,"f":0.3},{"t":61587,"a":0.08,"b":0.15,"c":0.22,"d":0.3,"e":0.6,"f":0.4}],
"h2e":[{"t":61505.5,"a":-0.15,"b":0.05,"c":0.1,"d":0.2,"e":0.28,"f":0.15},{"t":61522.7,"a":-0.17,"b":0.05,"c":0.08,"d":0.15,"e":0.2,"f":0.1},{"t":61539.8,"a":-0.15,"b":0.1,"c":0.15,"d":0.2,"e":0.22,"f":0.12},{"t":61555.7,"a":-0.12,"b":0.12,"c":0.2,"d":0.22,"e":0.25,"f":0.15},{"t":61575.5,"a":-0.15,"b":0.05,"c":0.1,"d":0.12,"e":0.15,"f":0.08},{"t":61598,"a":-0.25,"b":-0.1,"c":0.0,"d":-0.02,"e":0.05,"f":-0.05}]
},
"concat":[
{"width":254,"height":130,"title":{"text":"Image 1","fontSize":23.5,"offset":5},"resolve":{"axis":{"x":"independent","y":"independent"}},"layer":[
{"data":{"name":"r1"},"transform":[{"fold":["a","b","c","d","e"]}],"mark":{"type":"line","color":"#c71585"},"encoding":{"x":{"field":"t","type":"quantitative","scale":{"domain":[61489,61589],"nice":false},"axis":{"style":"xs","labels":false,"title":null}},"y":{"field":"value","type":"quantitative","scale":{"domain":[22.24,26.58],"reverse":true,"nice":false},"axis":{"style":"y2","title":"Mag"}},"detail":{"field":"key"}}},
{"data":{"name":"r1o"},"mark":{"type":"rule","color":"#c71585"},"encoding":{"x":{"field":"t","type":"quantitative","axis":null},"y":{"field":"lo","type":"quantitative","axis":null},"y2":{"field":"hi"}}},
{"data":{"name":"r1o"},"mark":{"type":"point","shape":"diamond","size":110,"color":"#c71585"},"encoding":{"x":{"field":"t","type":"quantitative","axis":{"orient":"top","style":"xs","labels":false,"title":null}},"y":{"field":"m","type":"quantitative","axis":{"orient":"right","style":"y2","labels":false,"title":null}}}},
{"data":{"values":[{"t":61503.6,"m":25.71,"s":"r-band"}]},"mark":{"type":"text"},"encoding":{"x":{"field":"t","type":"quantitative","axis":null},"y":{"field":"m","type":"quantitative","axis":null},"text":{"field":"s"}}}]},
{"width":260,"height":130,"title":{"text":"Image 2","fontSize":23.5,"offset":5},"resolve":{"axis":{"x":"independent","y":"independent"}},"layer":[
{"data":{"name":"r2"},"transform":[{"fold":["a","b","c","d","e"]}],"mark":{"type":"line","color":"#db7093"},"encoding":{"x":{"field":"t","type":"quantitative","scale":{"domain":[61500.3,61603],"nice":false},"axis":{"style":"xs","labels":false,"title":null}},"y":{"field":"value","type":"quantitative","scale":{"domain":[22.24,26.58],"reverse":true,"nice":false},"axis":{"style":"y2","labels":false,"title":null}},"detail":{"field":"key"}}},
{"data":{"name":"r2o"},"mark":{"type":"rule","color":"#db7093"},"encoding":{"x":{"field":"t","type":"quantitative","axis":null},"y":{"field":"lo","type":"quantitative","axis":null},"y2":{"field":"hi"}}},
{"data":{"name":"r2o"},"mark":{"type":"point","shape":"square","size":85,"color":"#db7093"},"encoding":{"x":{"field":"t","type":"quantitative","axis":{"orient":"top","style":"xs","labels":false,"title":null}},"y":{"field":"m","type":"quantitative","axis":{"orient":"right","style":"y2","labels":false,"title":null}}}}]},
{"width":254,"height":45,"resolve":{"axis":{"x":"independent","y":"independent"}},"layer":[
{"data":{"name":"r1e"},"transform":[{"fold":["a","b","c","d","e","f","g"]}],"mark":{"type":"line","color":"#c71585","clip":true},"encoding":{"x":{"field":"t","type":"quantitative","scale":{"domain":[61489,61589],"nice":false},"axis":{"style":"xs","labels":false,"title":null}},"y":{"field":"value","type":"quantitative","scale":{"domain":[-0.6,0.6],"reverse":true,"nice":false},"axis":{"style":"ye","title":"ε(t)"}},"detail":{"field":"key"}}},
{"data":{"name":"r1e"},"mark":{"type":"point","opacity":0},"encoding":{"x":{"field":"t","type":"quantitative","axis":{"orient":"top","style":"xs","labels":false,"title":null}},"y":{"field":"a","type":"quantitative","axis":{"orient":"right","style":"ye","labels":false,"title":null}}}}]},
{"width":260,"height":45,"resolve":{"axis":{"x":"independent","y":"independent"}},"layer":[
{"data":{"name":"r2e"},"transform":[{"fold":["a","b","c","d","e","f","g"]}],"mark":{"type":"line","color":"#db7093","clip":true},"encoding":{"x":{"field":"t","type":"quantitative","scale":{"domain":[61500.3,61603],"nice":false},"axis":{"style":"xs","labels":false,"title":null}},"y":{"field":"value","type":"quantitative","scale":{"domain":[-0.6,0.6],"reverse":true,"nice":false},"axis":{"style":"ye","labels":false,"title":null}},"detail":{"field":"key"}}},
{"data":{"name":"r2e"},"mark":{"type":"point","opacity":0},"encoding":{"x":{"field":"t","type":"quantitative","axis":{"orient":"top","style":"xs","labels":false,"title":null}},"y":{"field":"a","type":"quantitative","axis":{"orient":"right","style":"ye","labels":false,"title":null}}}}]},

{"width":254,"height":130,"resolve":{"axis":{"x":"independent","y":"independent"}},"layer":[
{"data":{"name":"i1"},"transform":[{"fold":["a","b","c","d","e"]}],"mark":{"type":"line","color":"#2a2aa0"},"encoding":{"x":{"field":"t","type":"quantitative","scale":{"domain":[61489,61589],"nice":false},"axis":{"style":"xs","labels":false,"title":null}},"y":{"field":"value","type":"quantitative","scale":{"domain":[22.18,26.08],"reverse":true,"nice":false},"axis":{"style":"y1","title":"Mag"}},"detail":{"field":"key"}}},
{"data":{"name":"i1o"},"mark":{"type":"rule","color":"#000080"},"encoding":{"x":{"field":"t","type":"quantitative","axis":null},"y":{"field":"lo","type":"quantitative","axis":null},"y2":{"field":"hi"}}},
{"data":{"name":"i1o"},"mark":{"type":"point","shape":"diamond","size":110,"color":"#000080"},"encoding":{"x":{"field":"t","type":"quantitative","axis":{"orient":"top","style":"xs","labels":false,"title":null}},"y":{"field":"m","type":"quantitative","axis":{"orient":"right","style":"y1","labels":false,"title":null}}}},
{"data":{"values":[{"t":61503.6,"m":25.30,"s":"i-band"}]},"mark":{"type":"text"},"encoding":{"x":{"field":"t","type":"quantitative","axis":null},"y":{"field":"m","type":"quantitative","axis":null},"text":{"field":"s"}}}]},
{"width":260,"height":130,"resolve":{"axis":{"x":"independent","y":"independent"}},"layer":[
{"data":{"name":"i2"},"transform":[{"fold":["a","b","c","d","e"]}],"mark":{"type":"line","color":"#4169e1"},"encoding":{"x":{"field":"t","type":"quantitative","scale":{"domain":[61500.3,61603],"nice":false},"axis":{"style":"xs","labels":false,"title":null}},"y":{"field":"value","type":"quantitative","scale":{"domain":[22.18,26.08],"reverse":true,"nice":false},"axis":{"style":"y1","labels":false,"title":null}},"detail":{"field":"key"}}},
{"data":{"name":"i2o"},"mark":{"type":"rule","color":"#4169e1"},"encoding":{"x":{"field":"t","type":"quantitative","axis":null},"y":{"field":"lo","type":"quantitative","axis":null},"y2":{"field":"hi"}}},
{"data":{"name":"i2o"},"mark":{"type":"point","shape":"square","size":85,"color":"#3a5fd0"},"encoding":{"x":{"field":"t","type":"quantitative","axis":{"orient":"top","style":"xs","labels":false,"title":null}},"y":{"field":"m","type":"quantitative","axis":{"orient":"right","style":"y1","labels":false,"title":null}}}}]},
{"width":254,"height":45,"resolve":{"axis":{"x":"independent","y":"independent"}},"layer":[
{"data":{"name":"i1e"},"transform":[{"fold":["a","b","c","d","e","f","g"]}],"mark":{"type":"line","color":"#2a2aa0","clip":true},"encoding":{"x":{"field":"t","type":"quantitative","scale":{"domain":[61489,61589],"nice":false},"axis":{"style":"xs","labels":false,"title":null}},"y":{"field":"value","type":"quantitative","scale":{"domain":[-0.6,0.6],"reverse":true,"nice":false},"axis":{"style":"ye","title":"ε(t)"}},"detail":{"field":"key"}}},
{"data":{"name":"i1e"},"mark":{"type":"point","opacity":0},"encoding":{"x":{"field":"t","type":"quantitative","axis":{"orient":"top","style":"xs","labels":false,"title":null}},"y":{"field":"a","type":"quantitative","axis":{"orient":"right","style":"ye","labels":false,"title":null}}}}]},
{"width":260,"height":45,"resolve":{"axis":{"x":"independent","y":"independent"}},"layer":[
{"data":{"name":"i2e"},"transform":[{"fold":["a","b","c","d","e","f","g"]}],"mark":{"type":"line","color":"#4169e1","clip":true},"encoding":{"x":{"field":"t","type":"quantitative","scale":{"domain":[61500.3,61603],"nice":false},"axis":{"style":"xs","labels":false,"title":null}},"y":{"field":"value","type":"quantitative","scale":{"domain":[-0.6,0.6],"reverse":true,"nice":false},"axis":{"style":"ye","labels":false,"title":null}},"detail":{"field":"key"}}},
{"data":{"name":"i2e"},"mark":{"type":"point","opacity":0},"encoding":{"x":{"field":"t","type":"quantitative","axis":{"orient":"top","style":"xs","labels":false,"title":null}},"y":{"field":"a","type":"quantitative","axis":{"orient":"right","style":"ye","labels":false,"title":null}}}}]},

{"width":254,"height":130,"resolve":{"axis":{"x":"independent","y":"independent"}},"layer":[
{"data":{"name":"z1"},"transform":[{"fold":["a","b","c","d","e"]}],"mark":{"type":"line","color":"#b5a226"},"encoding":{"x":{"field":"t","type":"quantitative","scale":{"domain":[61489,61589],"nice":false},"axis":{"style":"xs","labels":false,"title":null}},"y":{"field":"value","type":"quantitative","scale":{"domain":[22.09,26.77],"reverse":true,"nice":false},"axis":{"style":"y2","title":"Mag"}},"detail":{"field":"key"}}},
{"data":{"name":"z1o"},"mark":{"type":"rule","color":"#b5a226"},"encoding":{"x":{"field":"t","type":"quantitative","axis":null},"y":{"field":"lo","type":"quantitative","axis":null},"y2":{"field":"hi"}}},
{"data":{"name":"z1o"},"mark":{"type":"point","shape":"diamond","size":110,"color":"#b5a226"},"encoding":{"x":{"field":"t","type":"quantitative","axis":{"orient":"top","style":"xs","labels":false,"title":null}},"y":{"field":"m","type":"quantitative","axis":{"orient":"right","style":"y2","labels":false,"title":null}}}},
{"data":{"values":[{"t":61503.6,"m":25.83,"s":"z-band"}]},"mark":{"type":"text"},"encoding":{"x":{"field":"t","type":"quantitative","axis":null},"y":{"field":"m","type":"quantitative","axis":null},"text":{"field":"s"}}}]},
{"width":260,"height":130,"resolve":{"axis":{"x":"independent","y":"independent"}},"layer":[
{"data":{"name":"z2"},"transform":[{"fold":["a","b","c","d","e"]}],"mark":{"type":"line","color":"#e6c229"},"encoding":{"x":{"field":"t","type":"quantitative","scale":{"domain":[61500.3,61603],"nice":false},"axis":{"style":"xs","labels":false,"title":null}},"y":{"field":"value","type":"quantitative","scale":{"domain":[22.09,26.77],"reverse":true,"nice":false},"axis":{"style":"y2","labels":false,"title":null}},"detail":{"field":"key"}}},
{"data":{"name":"z2o"},"mark":{"type":"rule","color":"#e6c229"},"encoding":{"x":{"field":"t","type":"quantitative","axis":null},"y":{"field":"lo","type":"quantitative","axis":null},"y2":{"field":"hi"}}},
{"data":{"name":"z2o"},"mark":{"type":"point","shape":"square","size":85,"color":"#e3bf2a"},"encoding":{"x":{"field":"t","type":"quantitative","axis":{"orient":"top","style":"xs","labels":false,"title":null}},"y":{"field":"m","type":"quantitative","axis":{"orient":"right","style":"y2","labels":false,"title":null}}}}]},
{"width":254,"height":45,"resolve":{"axis":{"x":"independent","y":"independent"}},"layer":[
{"data":{"name":"z1e"},"transform":[{"fold":["a","b","c","d","e","f","g"]}],"mark":{"type":"line","color":"#b5a226","clip":true},"encoding":{"x":{"field":"t","type":"quantitative","scale":{"domain":[61489,61589],"nice":false},"axis":{"style":"xs","labels":false,"title":null}},"y":{"field":"value","type":"quantitative","scale":{"domain":[-0.6,0.6],"reverse":true,"nice":false},"axis":{"style":"ye","title":"ε(t)"}},"detail":{"field":"key"}}},
{"data":{"name":"z1e"},"mark":{"type":"point","opacity":0},"encoding":{"x":{"field":"t","type":"quantitative","axis":{"orient":"top","style":"xs","labels":false,"title":null}},"y":{"field":"a","type":"quantitative","axis":{"orient":"right","style":"ye","labels":false,"title":null}}}}]},
{"width":260,"height":45,"resolve":{"axis":{"x":"independent","y":"independent"}},"layer":[
{"data":{"name":"z2e"},"transform":[{"fold":["a","b","c","d","e","f","g"]}],"mark":{"type":"line","color":"#e6c229","clip":true},"encoding":{"x":{"field":"t","type":"quantitative","scale":{"domain":[61500.3,61603],"nice":false},"axis":{"style":"xs","labels":false,"title":null}},"y":{"field":"value","type":"quantitative","scale":{"domain":[-0.6,0.6],"reverse":true,"nice":false},"axis":{"style":"ye","labels":false,"title":null}},"detail":{"field":"key"}}},
{"data":{"name":"z2e"},"mark":{"type":"point","opacity":0},"encoding":{"x":{"field":"t","type":"quantitative","axis":{"orient":"top","style":"xs","labels":false,"title":null}},"y":{"field":"a","type":"quantitative","axis":{"orient":"right","style":"ye","labels":false,"title":null}}}}]},

{"width":254,"height":130,"resolve":{"axis":{"x":"independent","y":"independent"}},"layer":[
{"data":{"name":"Y1"},"transform":[{"fold":["a","b","c","d","e"]}],"mark":{"type":"line","color":"#cc5f00"},"encoding":{"x":{"field":"t","type":"quantitative","scale":{"domain":[61489,61589],"nice":false},"axis":{"style":"xs","labels":false,"title":null}},"y":{"field":"value","type":"quantitative","scale":{"domain":[22.05,26.16],"reverse":true,"nice":false},"axis":{"style":"y2","title":"Mag"}},"detail":{"field":"key"}}},
{"data":{"name":"Y1o"},"mark":{"type":"rule","color":"#cc5f00"},"encoding":{"x":{"field":"t","type":"quantitative","axis":null},"y":{"field":"lo","type":"quantitative","axis":null},"y2":{"field":"hi"}}},
{"data":{"name":"Y1o"},"mark":{"type":"point","shape":"diamond","size":110,"color":"#cc5f00"},"encoding":{"x":{"field":"t","type":"quantitative","axis":{"orient":"top","style":"xs","labels":false,"title":null}},"y":{"field":"m","type":"quantitative","axis":{"orient":"right","style":"y2","labels":false,"title":null}}}},
{"data":{"values":[{"t":61503.6,"m":25.34,"s":"y-band"}]},"mark":{"type":"text"},"encoding":{"x":{"field":"t","type":"quantitative","axis":null},"y":{"field":"m","type":"quantitative","axis":null},"text":{"field":"s"}}}]},
{"width":260,"height":130,"resolve":{"axis":{"x":"independent","y":"independent"}},"layer":[
{"data":{"name":"Y2"},"transform":[{"fold":["a","b","c","d","e"]}],"mark":{"type":"line","color":"#ff7f0e"},"encoding":{"x":{"field":"t","type":"quantitative","scale":{"domain":[61500.3,61603],"nice":false},"axis":{"style":"xs","labels":false,"title":null}},"y":{"field":"value","type":"quantitative","scale":{"domain":[22.05,26.16],"reverse":true,"nice":false},"axis":{"style":"y2","labels":false,"title":null}},"detail":{"field":"key"}}},
{"data":{"name":"Y2o"},"mark":{"type":"rule","color":"#ff7f0e"},"encoding":{"x":{"field":"t","type":"quantitative","axis":null},"y":{"field":"lo","type":"quantitative","axis":null},"y2":{"field":"hi"}}},
{"data":{"name":"Y2o"},"mark":{"type":"point","shape":"square","size":85,"color":"#ff7700"},"encoding":{"x":{"field":"t","type":"quantitative","axis":{"orient":"top","style":"xs","labels":false,"title":null}},"y":{"field":"m","type":"quantitative","axis":{"orient":"right","style":"y2","labels":false,"title":null}}}}]},
{"width":254,"height":45,"resolve":{"axis":{"x":"independent","y":"independent"}},"layer":[
{"data":{"name":"Y1e"},"transform":[{"fold":["a","b","c","d","e","f","g"]}],"mark":{"type":"line","color":"#cc5f00","clip":true},"encoding":{"x":{"field":"t","type":"quantitative","scale":{"domain":[61489,61589],"nice":false},"axis":{"style":"xs","labels":false,"title":null}},"y":{"field":"value","type":"quantitative","scale":{"domain":[-0.6,0.6],"reverse":true,"nice":false},"axis":{"style":"ye","title":"ε(t)"}},"detail":{"field":"key"}}},
{"data":{"name":"Y1e"},"mark":{"type":"point","opacity":0},"encoding":{"x":{"field":"t","type":"quantitative","axis":{"orient":"top","style":"xs","labels":false,"title":null}},"y":{"field":"a","type":"quantitative","axis":{"orient":"right","style":"ye","labels":false,"title":null}}}}]},
{"width":260,"height":45,"resolve":{"axis":{"x":"independent","y":"independent"}},"layer":[
{"data":{"name":"Y2e"},"transform":[{"fold":["a","b","c","d","e","f","g"]}],"mark":{"type":"line","color":"#ff7f0e","clip":true},"encoding":{"x":{"field":"t","type":"quantitative","scale":{"domain":[61500.3,61603],"nice":false},"axis":{"style":"xs","labels":false,"title":null}},"y":{"field":"value","type":"quantitative","scale":{"domain":[-0.6,0.6],"reverse":true,"nice":false},"axis":{"style":"ye","labels":false,"title":null}},"detail":{"field":"key"}}},
{"data":{"name":"Y2e"},"mark":{"type":"point","opacity":0},"encoding":{"x":{"field":"t","type":"quantitative","axis":{"orient":"top","style":"xs","labels":false,"title":null}},"y":{"field":"a","type":"quantitative","axis":{"orient":"right","style":"ye","labels":false,"title":null}}}}]},

{"width":254,"height":130,"resolve":{"axis":{"x":"independent","y":"independent"}},"layer":[
{"data":{"name":"f61"},"transform":[{"fold":["a","b","c","d","e"]}],"mark":{"type":"line","color":"#1a7a1a"},"encoding":{"x":{"field":"t","type":"quantitative","scale":{"domain":[61489,61589],"nice":false},"axis":{"style":"xs","labels":false,"title":null}},"y":{"field":"value","type":"quantitative","scale":{"domain":[22.1,26.91],"reverse":true,"nice":false},"axis":{"style":"y2","title":"Mag"}},"detail":{"field":"key"}}},
{"data":{"name":"f61o"},"mark":{"type":"point","shape":"diamond","size":110,"color":"#006400"},"encoding":{"x":{"field":"t","type":"quantitative","axis":{"orient":"top","style":"xs","labels":false,"title":null}},"y":{"field":"m","type":"quantitative","axis":{"orient":"right","style":"y2","labels":false,"title":null}}}},
{"data":{"values":[{"t":61503.6,"m":25.95,"s":"F625W"}]},"mark":{"type":"text"},"encoding":{"x":{"field":"t","type":"quantitative","axis":null},"y":{"field":"m","type":"quantitative","axis":null},"text":{"field":"s"}}}]},
{"width":260,"height":130,"resolve":{"axis":{"x":"independent","y":"independent"}},"layer":[
{"data":{"name":"f62"},"transform":[{"fold":["a","b","c","d","e"]}],"mark":{"type":"line","color":"#2ca02c"},"encoding":{"x":{"field":"t","type":"quantitative","scale":{"domain":[61500.3,61603],"nice":false},"axis":{"style":"xs","labels":false,"title":null}},"y":{"field":"value","type":"quantitative","scale":{"domain":[22.1,26.91],"reverse":true,"nice":false},"axis":{"style":"y2","labels":false,"title":null}},"detail":{"field":"key"}}},
{"data":{"name":"f62o"},"mark":{"type":"point","shape":"square","size":85,"color":"#2ca02c"},"encoding":{"x":{"field":"t","type":"quantitative","axis":{"orient":"top","style":"xs","labels":false,"title":null}},"y":{"field":"m","type":"quantitative","axis":{"orient":"right","style":"y2","labels":false,"title":null}}}}]},
{"width":254,"height":45,"resolve":{"axis":{"x":"independent","y":"independent"}},"layer":[
{"data":{"name":"f61e"},"transform":[{"fold":["a","b","c","d","e","f","g"]}],"mark":{"type":"line","color":"#1a7a1a","clip":true},"encoding":{"x":{"field":"t","type":"quantitative","scale":{"domain":[61489,61589],"nice":false},"axis":{"style":"xs","labels":false,"title":null}},"y":{"field":"value","type":"quantitative","scale":{"domain":[-0.6,0.6],"reverse":true,"nice":false},"axis":{"style":"ye","title":"ε(t)"}},"detail":{"field":"key"}}},
{"data":{"name":"f61e"},"mark":{"type":"point","opacity":0},"encoding":{"x":{"field":"t","type":"quantitative","axis":{"orient":"top","style":"xs","labels":false,"title":null}},"y":{"field":"a","type":"quantitative","axis":{"orient":"right","style":"ye","labels":false,"title":null}}}}]},
{"width":260,"height":45,"resolve":{"axis":{"x":"independent","y":"independent"}},"layer":[
{"data":{"name":"f62e"},"transform":[{"fold":["a","b","c","d","e","f","g"]}],"mark":{"type":"line","color":"#2ca02c","clip":true},"encoding":{"x":{"field":"t","type":"quantitative","scale":{"domain":[61500.3,61603],"nice":false},"axis":{"style":"xs","labels":false,"title":null}},"y":{"field":"value","type":"quantitative","scale":{"domain":[-0.6,0.6],"reverse":true,"nice":false},"axis":{"style":"ye","labels":false,"title":null}},"detail":{"field":"key"}}},
{"data":{"name":"f62e"},"mark":{"type":"point","opacity":0},"encoding":{"x":{"field":"t","type":"quantitative","axis":{"orient":"top","style":"xs","labels":false,"title":null}},"y":{"field":"a","type":"quantitative","axis":{"orient":"right","style":"ye","labels":false,"title":null}}}}]},

{"width":254,"height":130,"resolve":{"axis":{"x":"independent","y":"independent"}},"layer":[
{"data":{"name":"f81"},"transform":[{"fold":["a","b","c","d","e"]}],"mark":{"type":"line","color":"#c71585"},"encoding":{"x":{"field":"t","type":"quantitative","scale":{"domain":[61489,61589],"nice":false},"axis":{"style":"xs","labels":false,"title":null}},"y":{"field":"value","type":"quantitative","scale":{"domain":[22.21,26.32],"reverse":true,"nice":false},"axis":{"style":"y2","title":"Mag"}},"detail":{"field":"key"}}},
{"data":{"name":"f81o"},"mark":{"type":"point","shape":"diamond","size":110,"color":"#c71585"},"encoding":{"x":{"field":"t","type":"quantitative","axis":{"orient":"top","style":"xs","labels":false,"title":null}},"y":{"field":"m","type":"quantitative","axis":{"orient":"right","style":"y2","labels":false,"title":null}}}},
{"data":{"values":[{"t":61503.6,"m":25.50,"s":"F814W"}]},"mark":{"type":"text"},"encoding":{"x":{"field":"t","type":"quantitative","axis":null},"y":{"field":"m","type":"quantitative","axis":null},"text":{"field":"s"}}}]},
{"width":260,"height":130,"resolve":{"axis":{"x":"independent","y":"independent"}},"layer":[
{"data":{"name":"f82"},"transform":[{"fold":["a","b","c","d","e"]}],"mark":{"type":"line","color":"#db7093"},"encoding":{"x":{"field":"t","type":"quantitative","scale":{"domain":[61500.3,61603],"nice":false},"axis":{"style":"xs","labels":false,"title":null}},"y":{"field":"value","type":"quantitative","scale":{"domain":[22.21,26.32],"reverse":true,"nice":false},"axis":{"style":"y2","labels":false,"title":null}},"detail":{"field":"key"}}},
{"data":{"name":"f82o"},"mark":{"type":"point","shape":"square","size":85,"color":"#db7093"},"encoding":{"x":{"field":"t","type":"quantitative","axis":{"orient":"top","style":"xs","labels":false,"title":null}},"y":{"field":"m","type":"quantitative","axis":{"orient":"right","style":"y2","labels":false,"title":null}}}}]},
{"width":254,"height":45,"resolve":{"axis":{"x":"independent","y":"independent"}},"layer":[
{"data":{"name":"f81e"},"transform":[{"fold":["a","b","c","d","e","f","g"]}],"mark":{"type":"line","color":"#c71585","clip":true},"encoding":{"x":{"field":"t","type":"quantitative","scale":{"domain":[61489,61589],"nice":false},"axis":{"style":"xs","labels":false,"title":null}},"y":{"field":"value","type":"quantitative","scale":{"domain":[-0.6,0.6],"reverse":true,"nice":false},"axis":{"style":"ye","title":"ε(t)"}},"detail":{"field":"key"}}},
{"data":{"name":"f81e"},"mark":{"type":"point","opacity":0},"encoding":{"x":{"field":"t","type":"quantitative","axis":{"orient":"top","style":"xs","labels":false,"title":null}},"y":{"field":"a","type":"quantitative","axis":{"orient":"right","style":"ye","labels":false,"title":null}}}}]},
{"width":260,"height":45,"resolve":{"axis":{"x":"independent","y":"independent"}},"layer":[
{"data":{"name":"f82e"},"transform":[{"fold":["a","b","c","d","e","f","g"]}],"mark":{"type":"line","color":"#db7093","clip":true},"encoding":{"x":{"field":"t","type":"quantitative","scale":{"domain":[61500.3,61603],"nice":false},"axis":{"style":"xs","labels":false,"title":null}},"y":{"field":"value","type":"quantitative","scale":{"domain":[-0.6,0.6],"reverse":true,"nice":false},"axis":{"style":"ye","labels":false,"title":null}},"detail":{"field":"key"}}},
{"data":{"name":"f82e"},"mark":{"type":"point","opacity":0},"encoding":{"x":{"field":"t","type":"quantitative","axis":{"orient":"top","style":"xs","labels":false,"title":null}},"y":{"field":"a","type":"quantitative","axis":{"orient":"right","style":"ye","labels":false,"title":null}}}}]},

{"width":254,"height":130,"resolve":{"axis":{"x":"independent","y":"independent"}},"layer":[
{"data":{"name":"j1"},"transform":[{"fold":["a","b","c","d","e"]}],"mark":{"type":"line","color":"#cc6a10"},"encoding":{"x":{"field":"t","type":"quantitative","scale":{"domain":[61489,61589],"nice":false},"axis":{"style":"xs","labels":false,"title":null}},"y":{"field":"value","type":"quantitative","scale":{"domain":[22.15,24.56],"reverse":true,"nice":false},"axis":{"style":"y1","title":"Mag"}},"detail":{"field":"key"}}},
{"data":{"name":"j1o"},"mark":{"type":"rule","color":"#cc6a10"},"encoding":{"x":{"field":"t","type":"quantitative","axis":null},"y":{"field":"lo","type":"quantitative","axis":null},"y2":{"field":"hi"}}},
{"data":{"name":"j1o"},"mark":{"type":"point","shape":"diamond","size":110,"color":"#cc6a10"},"encoding":{"x":{"field":"t","type":"quantitative","axis":{"orient":"top","style":"xs","labels":false,"title":null}},"y":{"field":"m","type":"quantitative","axis":{"orient":"right","style":"y1","labels":false,"title":null}}}},
{"data":{"values":[{"t":61503.6,"m":24.08,"s":"F110W"}]},"mark":{"type":"text"},"encoding":{"x":{"field":"t","type":"quantitative","axis":null},"y":{"field":"m","type":"quantitative","axis":null},"text":{"field":"s"}}}]},
{"width":260,"height":130,"resolve":{"axis":{"x":"independent","y":"independent"}},"layer":[
{"data":{"name":"j2"},"transform":[{"fold":["a","b","c","d","e"]}],"mark":{"type":"line","color":"#ff7f0e"},"encoding":{"x":{"field":"t","type":"quantitative","scale":{"domain":[61500.3,61603],"nice":false},"axis":{"style":"xs","labels":false,"title":null}},"y":{"field":"value","type":"quantitative","scale":{"domain":[22.15,24.56],"reverse":true,"nice":false},"axis":{"style":"y1","labels":false,"title":null}},"detail":{"field":"key"}}},
{"data":{"name":"j2o"},"mark":{"type":"point","shape":"square","size":85,"color":"#ff7700"},"encoding":{"x":{"field":"t","type":"quantitative","axis":{"orient":"top","style":"xs","labels":false,"title":null}},"y":{"field":"m","type":"quantitative","axis":{"orient":"right","style":"y1","labels":false,"title":null}}}}]},
{"width":254,"height":45,"resolve":{"axis":{"x":"independent","y":"independent"}},"layer":[
{"data":{"name":"j1e"},"transform":[{"fold":["a","b","c","d","e","f","g"]}],"mark":{"type":"line","color":"#cc6a10","clip":true},"encoding":{"x":{"field":"t","type":"quantitative","scale":{"domain":[61489,61589],"nice":false},"axis":{"style":"xs","labels":false,"title":null}},"y":{"field":"value","type":"quantitative","scale":{"domain":[-0.6,0.6],"reverse":true,"nice":false},"axis":{"style":"ye","title":"ε(t)"}},"detail":{"field":"key"}}},
{"data":{"name":"j1e"},"mark":{"type":"point","opacity":0},"encoding":{"x":{"field":"t","type":"quantitative","axis":{"orient":"top","style":"xs","labels":false,"title":null}},"y":{"field":"a","type":"quantitative","axis":{"orient":"right","style":"ye","labels":false,"title":null}}}}]},
{"width":260,"height":45,"resolve":{"axis":{"x":"independent","y":"independent"}},"layer":[
{"data":{"name":"j2e"},"transform":[{"fold":["a","b","c","d","e","f","g"]}],"mark":{"type":"line","color":"#ff7f0e","clip":true},"encoding":{"x":{"field":"t","type":"quantitative","scale":{"domain":[61500.3,61603],"nice":false},"axis":{"style":"xs","labels":false,"title":null}},"y":{"field":"value","type":"quantitative","scale":{"domain":[-0.6,0.6],"reverse":true,"nice":false},"axis":{"style":"ye","labels":false,"title":null}},"detail":{"field":"key"}}},
{"data":{"name":"j2e"},"mark":{"type":"point","opacity":0},"encoding":{"x":{"field":"t","type":"quantitative","axis":{"orient":"top","style":"xs","labels":false,"title":null}},"y":{"field":"a","type":"quantitative","axis":{"orient":"right","style":"ye","labels":false,"title":null}}}}]},

{"width":254,"height":130,"resolve":{"axis":{"x":"independent","y":"independent"}},"layer":[
{"data":{"name":"h1"},"transform":[{"fold":["a","b","c","d","e"]}],"mark":{"type":"line","color":"#8b008b"},"encoding":{"x":{"field":"t","type":"quantitative","scale":{"domain":[61489,61589],"nice":false},"axis":{"style":"xs","labels":false,"title":null}},"y":{"field":"value","type":"quantitative","scale":{"domain":[22.48,24.75],"reverse":true,"nice":false},"axis":{"style":"y1","title":"Mag"}},"detail":{"field":"key"}}},
{"data":{"name":"h1o"},"mark":{"type":"point","shape":"diamond","size":110,"color":"#8b008b"},"encoding":{"x":{"field":"t","type":"quantitative","axis":{"orient":"top","style":"xs","labels":false,"title":null}},"y":{"field":"m","type":"quantitative","axis":{"orient":"right","style":"y1","labels":false,"title":null}}}},
{"data":{"values":[{"t":61503.6,"m":24.30,"s":"F160W"}]},"mark":{"type":"text"},"encoding":{"x":{"field":"t","type":"quantitative","axis":null},"y":{"field":"m","type":"quantitative","axis":null},"text":{"field":"s"}}}]},
{"width":260,"height":130,"resolve":{"axis":{"x":"independent","y":"independent"}},"layer":[
{"data":{"name":"h2"},"transform":[{"fold":["a","b","c","d","e"]}],"mark":{"type":"line","color":"#da70d6"},"encoding":{"x":{"field":"t","type":"quantitative","scale":{"domain":[61500.3,61603],"nice":false},"axis":{"style":"xs","labels":false,"title":null}},"y":{"field":"value","type":"quantitative","scale":{"domain":[22.48,24.75],"reverse":true,"nice":false},"axis":{"style":"y1","labels":false,"title":null}},"detail":{"field":"key"}}},
{"data":{"name":"h2o"},"mark":{"type":"point","shape":"square","size":85,"color":"#da70d6"},"encoding":{"x":{"field":"t","type":"quantitative","axis":{"orient":"top","style":"xs","labels":false,"title":null}},"y":{"field":"m","type":"quantitative","axis":{"orient":"right","style":"y1","labels":false,"title":null}}}}]},
{"width":254,"height":45,"resolve":{"axis":{"x":"independent","y":"independent"}},"layer":[
{"data":{"name":"h1e"},"transform":[{"fold":["a","b","c","d","e","f","g"]}],"mark":{"type":"line","color":"#8b008b","clip":true},"encoding":{"x":{"field":"t","type":"quantitative","scale":{"domain":[61489,61589],"nice":false},"axis":{"style":"xs","title":"MJD [days]"}},"y":{"field":"value","type":"quantitative","scale":{"domain":[-0.6,0.6],"reverse":true,"nice":false},"axis":{"style":"ye","title":"ε(t)"}},"detail":{"field":"key"}}},
{"data":{"name":"h1e"},"mark":{"type":"point","opacity":0},"encoding":{"x":{"field":"t","type":"quantitative","axis":{"orient":"top","style":"xs","labels":false,"title":null}},"y":{"field":"a","type":"quantitative","axis":{"orient":"right","style":"ye","labels":false,"title":null}}}}]},
{"width":260,"height":45,"resolve":{"axis":{"x":"independent","y":"independent"}},"layer":[
{"data":{"name":"h2e"},"transform":[{"fold":["a","b","c","d","e","f","g"]}],"mark":{"type":"line","color":"#da70d6","clip":true},"encoding":{"x":{"field":"t","type":"quantitative","scale":{"domain":[61500.3,61603],"nice":false},"axis":{"style":"xs","title":"MJD [days]"}},"y":{"field":"value","type":"quantitative","scale":{"domain":[-0.6,0.6],"reverse":true,"nice":false},"axis":{"style":"ye","labels":false,"title":null}},"detail":{"field":"key"}}},
{"data":{"name":"h2e"},"mark":{"type":"point","opacity":0},"encoding":{"x":{"field":"t","type":"quantitative","axis":{"orient":"top","style":"xs","labels":false,"title":null}},"y":{"field":"a","type":"quantitative","axis":{"orient":"right","style":"ye","labels":false,"title":null}}}}]}
],
"config":{
"view":{"stroke":null},
"font":"DejaVu Serif",
"title":{"font":"DejaVu Serif","fontWeight":"normal","color":"black"},
"axis":{"grid":false,"domainColor":"#333","domainWidth":1.4,"tickColor":"#222","tickWidth":1.1,"labelFont":"DejaVu Serif","labelFontSize":13,"labelColor":"#111","labelOverlap":false,"labelFlush":false,"titleFont":"DejaVu Serif","titleFontSize":17,"titleFontWeight":"normal","titleColor":"#111"},
"axisX":{"labelPadding":17},
"axisY":{"labelPadding":18},
"axisLeft":{"titleX":-57,"titleBaseline":"middle"},
"axisBottom":{"titleY":38,"titleBaseline":"middle"},
"line":{"opacity":0.34,"strokeWidth":1.7,"interpolate":"monotone"},
"rule":{"opacity":0.4,"strokeWidth":2},
"point":{"filled":true,"opacity":1},
"text":{"font":"DejaVu Serif","fontSize":20,"align":"left","baseline":"alphabetic","color":"black"},
"style":{
"xs":{"tickCount":20,"tickSize":{"condition":{"test":"datum.value % 20 === 0","value":-7},"value":-4},"labelExpr":"datum.value % 20 === 0 ? format(datum.value, 'd') : ''"},
"y2":{"tickCount":10,"tickSize":{"condition":{"test":"abs(datum.value % 2) < 1e-6","value":-7},"value":-4},"labelExpr":"abs(datum.value % 2) < 1e-6 ? format(datum.value, 'd') : ''"},
"y1":{"tickCount":15,"tickSize":{"condition":{"test":"abs(datum.value % 1) < 1e-6","value":-7},"value":-4},"labelExpr":"abs(datum.value % 1) < 1e-6 ? format(datum.value, 'd') : ''"},
"ye":{"tickCount":12,"tickSize":{"condition":{"test":"abs(datum.value % 0.4) < 1e-6","value":-7},"value":-4},"labelExpr":"abs(datum.value % 0.4) < 1e-6 ? format(datum.value, '.1f') : ''"}
}
}
}
